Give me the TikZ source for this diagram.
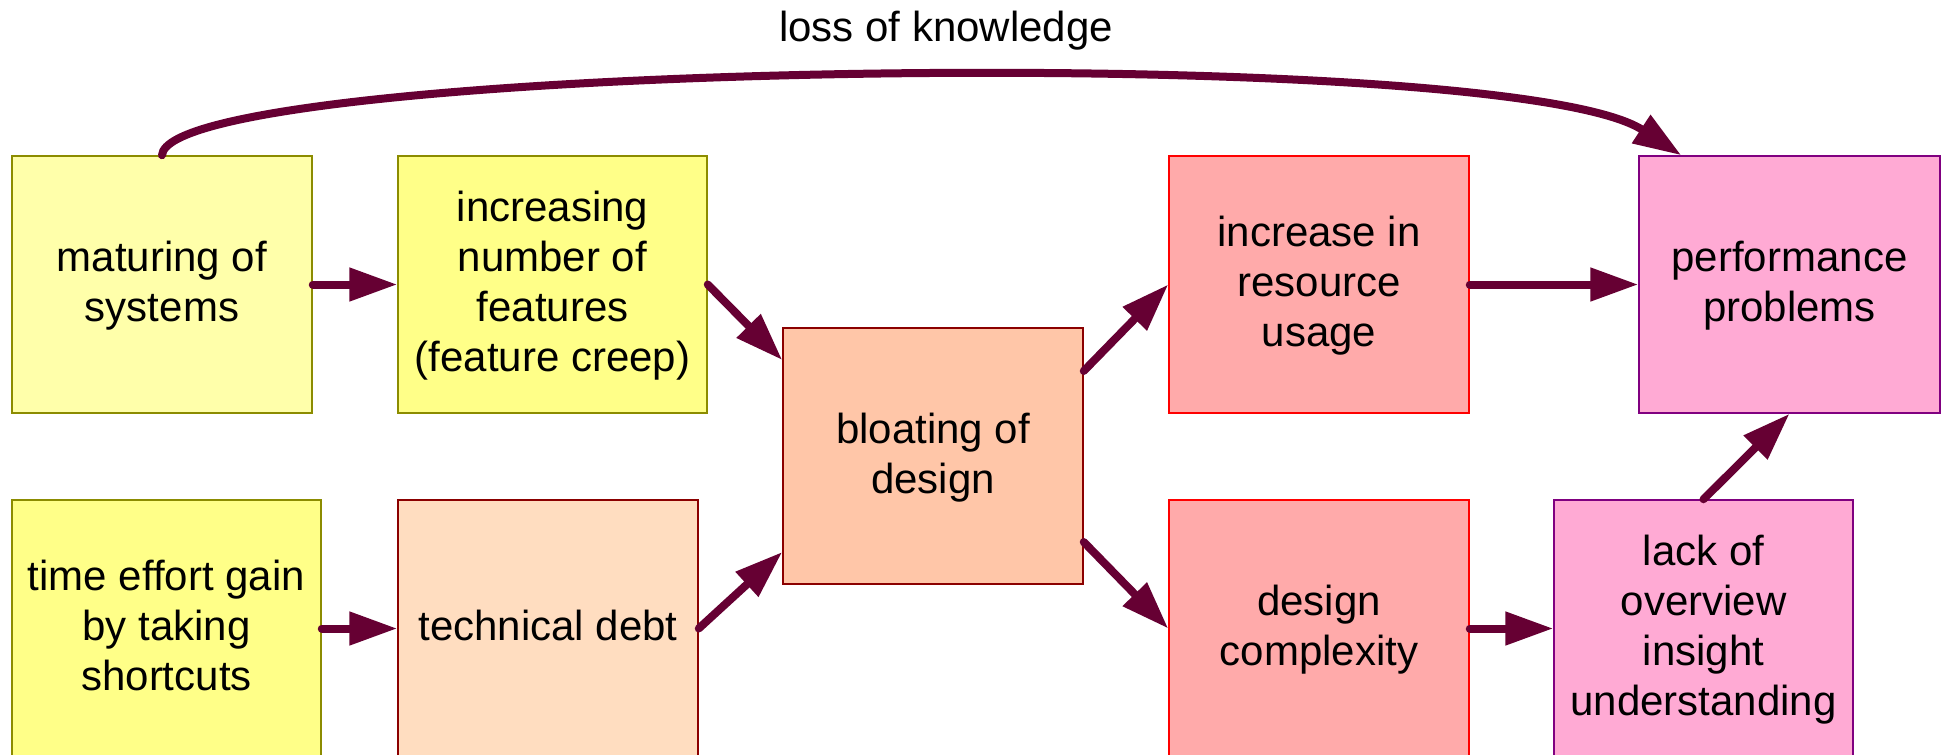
\documentclass[tikz,border=0pt]{standalone}
\usepackage{fontspec}
\setmainfont{Liberation Sans}
\usetikzlibrary{arrows.meta}
\definecolor{arrowc}{HTML}{660033}
\definecolor{olive}{HTML}{8C8C00}
\definecolor{dred}{HTML}{8B0000}
\definecolor{vred}{HTML}{FF0000}
\definecolor{purp}{HTML}{800080}
\definecolor{fpale}{HTML}{FFFFAA}
\definecolor{fyel}{HTML}{FFFF88}
\definecolor{fpeach}{HTML}{FFDDC0}
\definecolor{fsalm}{HTML}{FFC6A8}
\definecolor{fred}{HTML}{FFAAAA}
\definecolor{fpink}{HTML}{FFAAD4}
\begin{document}
\begin{tikzpicture}[x=1pt,y=-1pt,
  box/.style={draw, line width=1.5pt, inner sep=0pt, align=center,
    minimum height=257pt, text depth=6pt,
    font=\fontsize{42}{50}\selectfont},
  arr/.style={draw=arrowc, line width=8pt, line cap=round,
    -{Triangle[length=48pt,width=32pt]}}]
\useasboundingbox (0,0) rectangle (1944,755);
\clip (0,0) rectangle (1944,755);
\fill[white] (0,0) rectangle (1944,755);

\node[box, draw=olive, fill=fpale, minimum width=300pt] (mat) at (162,284.5) {maturing of\\systems};
\node[box, draw=olive, fill=fyel, minimum width=309pt] (inc) at (552.5,284.5) {increasing\\number of\\features\\(feature creep)};
\node[box, draw=olive, fill=fyel, minimum width=309pt] (time) at (166.5,628.5) {time effort gain\\by taking\\shortcuts};
\node[box, draw=dred, fill=fpeach, minimum width=300pt] (tech) at (548,628.5) {technical debt};
\node[box, draw=dred, fill=fsalm, minimum width=300pt, minimum height=256pt] (bloat) at (933,456) {bloating of\\design};
\node[box, draw=vred, fill=fred, minimum width=300pt] (incr) at (1319,284.5) {increase in\\resource\\usage};
\node[box, draw=vred, fill=fred, minimum width=300pt] (des) at (1319,628.5) {design\\complexity};
\node[box, draw=purp, fill=fpink, minimum width=301pt] (perf) at (1789.5,284.5) {performance\\problems};
\node[box, draw=purp, fill=fpink, minimum width=299pt] (lack) at (1703.5,628.5) {lack of\\overview\\insight\\understanding};

\node[anchor=base, inner sep=0pt, font=\fontsize{42}{50}\selectfont] (lbl) at (946,41) {loss of knowledge};

\draw[arr] (mat.east) -- (inc.west);
\draw[arr] (inc.east) -- ([yshift=96pt]bloat.west);
\draw[arr] (time.east) -- (tech.west);
\draw[arr] (tech.east) -- ([yshift=-96pt]bloat.west);
\draw[arr] ([yshift=85pt]bloat.east) -- (incr.west);
\draw[arr] ([yshift=-86pt]bloat.east) -- (des.west);
\draw[arr] (incr.east) -- (perf.west);
\draw[arr] (des.east) -- (lack.west);
\draw[arr] (lack.north) -- (perf.south);
\draw[arr] (mat.north) .. controls (168,62) and (1505,40) .. ([xshift=43pt]perf.north west);
\end{tikzpicture}
\end{document}
